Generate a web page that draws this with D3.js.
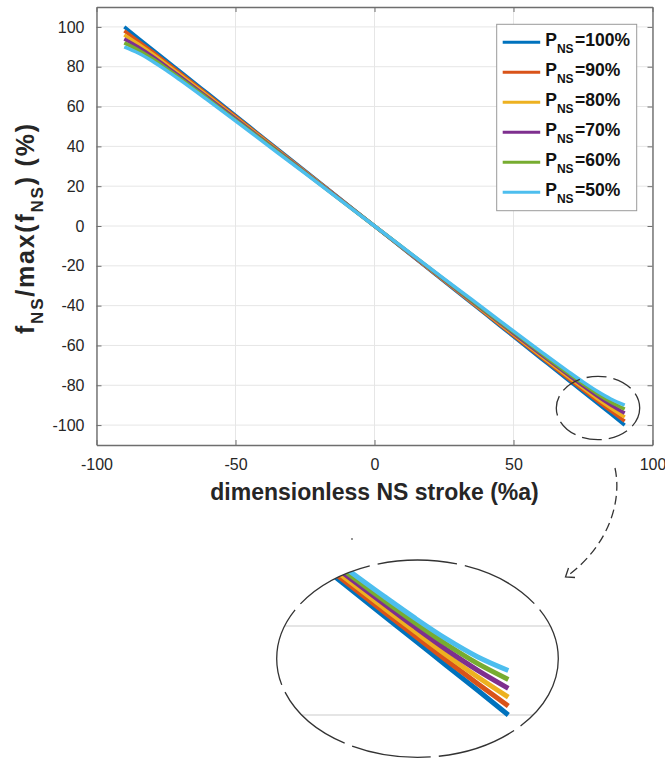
<!DOCTYPE html>
<html>
<head>
<meta charset="utf-8">
<script src="https://cdn.jsdelivr.net/npm/d3@7.9.0/dist/d3.min.js"></script>
<style>
  html, body { margin: 0; padding: 0; background: #fff; }
  svg { display: block; font-family: "Liberation Sans", Arial, sans-serif; }
</style>
</head>
<body>
<svg id="chart" width="665" height="762"></svg>
<script>
// Data
const strokeX = [-90, -85, -80, -75, -70, -60, -45, -30, -15, 0, 15, 30, 45, 60, 70, 75, 80, 85, 90];
const p100 = [100, 94.4, 88.9, 83.3, 77.8, 66.7, 50.0, 33.3, 16.7, 0, -16.7, -33.3, -50.0, -66.7, -77.8, -83.3, -88.9, -94.4, -100];
const p90 = [98.0, 92.9, 87.7, 82.3, 76.9, 66.0, 49.5, 33.0, 16.5, 0, -16.5, -33.0, -49.5, -66.0, -76.9, -82.3, -87.7, -92.9, -98.0];
const p80 = [96.0, 91.4, 86.5, 81.3, 76.0, 65.3, 49.0, 32.7, 16.3, 0, -16.3, -32.7, -49.0, -65.3, -76.0, -81.3, -86.5, -91.4, -96.0];
const p70 = [94.0, 89.9, 85.3, 80.3, 75.1, 64.6, 48.5, 32.4, 16.2, 0, -16.2, -32.4, -48.5, -64.6, -75.1, -80.3, -85.3, -89.9, -94.0];
const p60 = [92.0, 88.4, 84.1, 79.3, 74.3, 63.9, 48.0, 32.1, 16.0, 0, -16.0, -32.1, -48.0, -63.9, -74.3, -79.3, -84.1, -88.4, -92.0];
const p50 = [90.0, 86.9, 82.9, 78.3, 73.4, 63.2, 47.5, 31.7, 15.9, 0, -15.9, -31.7, -47.5, -63.2, -73.4, -78.3, -82.9, -86.9, -90.0];

const seriesLabels = ['100%', '90%', '80%', '70%', '60%', '50%'];
const seriesValues = [p100, p90, p80, p70, p60, p50];
const colors = ['#0072BD', '#D95319', '#EDB120', '#7E2F8E', '#77AC30', '#4DBEEE'];

const xTicks = [-100, -50, 0, 50, 100];
const yTicks = [-100, -80, -60, -40, -20, 0, 20, 40, 60, 80, 100];

const series = seriesLabels.map((label, i) => ({
  label,
  color: colors[i],
  points: strokeX.map((x, j) => ({ x, y: seriesValues[i][j] }))
}));

const svg = d3.select('#chart');
const textColor = '#262626';

// Main axes
const box = { left: 96.5, top: 7, right: 652.5, bottom: 445 };
const x = d3.scaleLinear().domain([-100, 100]).range([box.left, box.right]);
const y = d3.scaleLinear().domain([-110, 110]).range([box.bottom, box.top]);

// grid
svg.append('g')
  .selectAll('line')
  .data(xTicks)
  .join('line')
  .attr('x1', d => x(d)).attr('x2', d => x(d))
  .attr('y1', box.top).attr('y2', box.bottom)
  .attr('stroke', '#e6e6e6').attr('stroke-width', 1);

svg.append('g')
  .selectAll('line')
  .data(yTicks)
  .join('line')
  .attr('x1', box.left).attr('x2', box.right)
  .attr('y1', d => y(d)).attr('y2', d => y(d))
  .attr('stroke', '#e6e6e6').attr('stroke-width', 1);

// lines
const line = d3.line()
  .x(d => x(d.x))
  .y(d => y(d.y))
  .curve(d3.curveMonotoneX);

svg.append('g')
  .selectAll('path')
  .data(series)
  .join('path')
  .attr('d', d => line(d.points))
  .attr('fill', 'none')
  .attr('stroke', d => d.color)
  .attr('stroke-width', 3.5);

// axes with inward ticks on all four sides
const tickLen = 5;
const axisColor = '#6e6e6e';
const plainNum = d => String(d); // hyphen minus like the original

const bottomAxis = svg.append('g')
  .attr('transform', `translate(0,${box.bottom})`)
  .call(d3.axisBottom(x).tickValues(xTicks).tickFormat(plainNum).tickSizeInner(-tickLen).tickSizeOuter(0).tickPadding(14));
const topAxis = svg.append('g')
  .attr('transform', `translate(0,${box.top})`)
  .call(d3.axisTop(x).tickValues(xTicks).tickSizeInner(-tickLen).tickSizeOuter(0).tickFormat(''));
const leftAxis = svg.append('g')
  .attr('transform', `translate(${box.left},0)`)
  .call(d3.axisLeft(y).tickValues(yTicks).tickFormat(plainNum).tickSizeInner(-tickLen).tickSizeOuter(0).tickPadding(12));
const rightAxis = svg.append('g')
  .attr('transform', `translate(${box.right},0)`)
  .call(d3.axisRight(y).tickValues(yTicks).tickSizeInner(-tickLen).tickSizeOuter(0).tickFormat(''));

[bottomAxis, topAxis, leftAxis, rightAxis].forEach(g => {
  g.select('.domain').attr('stroke', axisColor).attr('stroke-width', 1.4);
  g.selectAll('.tick line').attr('stroke', axisColor).attr('stroke-width', 1);
  g.selectAll('.tick text')
    .attr('fill', textColor)
    .style('font-size', '16px')
    .style('font-family', '"Liberation Sans", Arial, sans-serif');
});

// axis titles
svg.append('text')
  .attr('x', x(0))
  .attr('y', 500)
  .attr('text-anchor', 'middle')
  .attr('fill', textColor)
  .style('font-size', '23px')
  .style('font-weight', 'bold')
  .text('dimensionless NS stroke (%a)');

const yLabel = svg.append('text')
  .attr('transform', 'translate(34,229) rotate(-90)')
  .attr('text-anchor', 'middle')
  .attr('textLength', 210)
  .attr('lengthAdjust', 'spacing')
  .attr('fill', textColor)
  .style('font-size', '25px')
  .style('font-weight', 'bold');
yLabel.append('tspan').text('f');
yLabel.append('tspan').attr('dy', 9).style('font-size', '17px').text('NS');
yLabel.append('tspan').attr('dy', -9).text('/max(f');
yLabel.append('tspan').attr('dy', 9).style('font-size', '17px').text('NS');
yLabel.append('tspan').attr('dy', -9).text(') (%)');

// legend
const legend = svg.append('g').attr('transform', 'translate(496.7,24.3)');
legend.append('rect')
  .attr('width', 140).attr('height', 186.4)
  .attr('fill', '#fff')
  .attr('stroke', '#9a9a9a').attr('stroke-width', 1);

const items = legend.selectAll('g')
  .data(series)
  .join('g')
  .attr('transform', (d, i) => `translate(0,${18 + i * 30})`);
items.append('line')
  .attr('x1', 6).attr('x2', 43.5)
  .attr('stroke', d => d.color).attr('stroke-width', 3);
const itemText = items.append('text')
  .attr('x', 48.5).attr('y', 3.5)
  .attr('fill', '#111')
  .style('font-size', '17.5px')
  .style('font-weight', 'bold');
itemText.append('tspan').text('P');
itemText.append('tspan').attr('dy', 7.4).style('font-size', '12px').text('NS');
itemText.append('tspan').attr('dy', -7.4).attr('dx', 1.5).text(d => '=' + d.label);

// zoom marker on the main chart
const annColor = '#333';
svg.append('ellipse')
  .attr('cx', 598).attr('cy', 408).attr('rx', 41.7).attr('ry', 31.7)
  .attr('fill', 'none').attr('stroke', annColor).attr('stroke-width', 1.3)
  .attr('stroke-dasharray', '20,7');

// curved dashed arrow
svg.append('path')
  .attr('d', 'M615,468 C622,500 610,545 566,577')
  .attr('fill', 'none').attr('stroke', annColor).attr('stroke-width', 1.3)
  .attr('stroke-dasharray', '9,5');
svg.append('path')
  .attr('d', 'M568.5,568 L565.5,577 L575,577.5')
  .attr('fill', 'none').attr('stroke', annColor).attr('stroke-width', 1.3);

// stray dot
svg.append('circle').attr('cx', 352).attr('cy', 539).attr('r', 0.9).attr('fill', '#666');

// magnified inset
const inset = { cx: 417.5, cy: 658.7, rx: 140.8, ry: 98.7 };
const ix = d3.scaleLinear().domain([60, 90]).range([322.6, 508.3]);
const iy = d3.scaleLinear().domain([-100, -80]).range([715, 626]);

svg.append('clipPath').attr('id', 'insetClip')
  .append('ellipse')
  .attr('cx', inset.cx).attr('cy', inset.cy).attr('rx', inset.rx).attr('ry', inset.ry);

const insetG = svg.append('g').attr('clip-path', 'url(#insetClip)');
insetG.selectAll('line')
  .data([-80, -100])
  .join('line')
  .attr('x1', inset.cx - inset.rx).attr('x2', inset.cx + inset.rx)
  .attr('y1', d => iy(d)).attr('y2', d => iy(d))
  .attr('stroke', '#dcdcdc').attr('stroke-width', 1.5);

const insetLine = d3.line()
  .x(d => ix(d.x))
  .y(d => iy(d.y))
  .curve(d3.curveMonotoneX);

insetG.selectAll('path')
  .data(series)
  .join('path')
  .attr('d', d => insetLine(d.points.filter(p => p.x >= 45)))
  .attr('fill', 'none')
  .attr('stroke', d => d.color)
  .attr('stroke-width', 5);

svg.append('ellipse')
  .attr('cx', inset.cx).attr('cy', inset.cy).attr('rx', inset.rx).attr('ry', inset.ry)
  .attr('fill', 'none').attr('stroke', annColor).attr('stroke-width', 1.3)
  .attr('stroke-dasharray', '80,8');
</script>
</body>
</html>
